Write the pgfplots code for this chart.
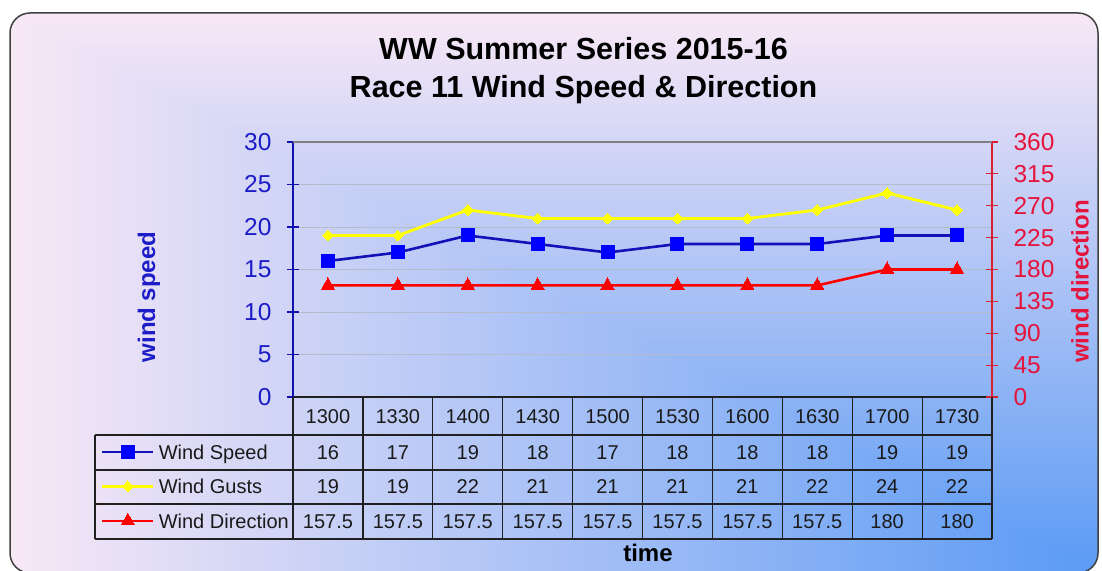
\documentclass[border=0pt]{standalone}
\usepackage{fontspec}
\setmainfont{Liberation Sans}
\usepackage{pgfplots}
\pgfplotsset{compat=1.18}
\usepackage{pgfplotstable}

\definecolor{spdblue}{HTML}{0000FF}
\definecolor{spdline}{HTML}{1212B8}
\definecolor{gustyel}{HTML}{FFFF00}
\definecolor{dirred}{HTML}{FF0000}
\definecolor{lblblue}{HTML}{1C1CC8}
\definecolor{lblred}{HTML}{E4143C}
\definecolor{axblue}{HTML}{1010B0}
\definecolor{axred}{HTML}{D82030}
\definecolor{bgpink}{HTML}{F8E8F6}
\definecolor{bgmid}{HTML}{A6CBF3}
\definecolor{bgblue}{HTML}{5A9AF5}
\definecolor{gridc}{HTML}{B4BCCC}
\definecolor{tblc}{HTML}{202020}
\definecolor{tbltext}{HTML}{1A1A1A}
\definecolor{framec}{HTML}{404040}

\pgfplotstableread{
x speed gusts dir
0 16 19 157.5
1 17 19 157.5
2 19 22 157.5
3 18 21 157.5
4 17 21 157.5
5 18 21 157.5
6 18 21 157.5
7 18 22 157.5
8 19 24 180
9 19 22 180
}\datatable

\begin{document}
\begin{tikzpicture}[x=1pt,y=1pt]
\path[use as bounding box] (0,0) rectangle (1102,570);
% background: gradient from the bottom-right corner
\begin{scope}
\clip[rounded corners=20pt] (10,-3) rectangle (1098,557);
\shade[left color=bgpink, middle color=bgmid, right color=bgblue] (10,-3) rectangle (1098,557);
\shade[top color=bgpink, middle color=bgmid, bottom color=bgblue] (10,557) -- (1098,557) -- (1098,-3) -- cycle;
\end{scope}
\draw[framec, line width=1.5pt, rounded corners=20pt] (10,-3) rectangle (1098,557);

% title
\node[font=\bfseries\fontsize{30.5}{38}\selectfont, align=center, text=black] at (583.5,499) {WW Summer Series 2015-16\\Race 11 Wind Speed \& Direction};

\begin{axis}[
  at={(293pt,173pt)}, anchor=south west, scale only axis,
  width=699pt, height=255pt,
  xmin=-0.5, xmax=9.5, ymin=0, ymax=30,
  axis x line*=bottom, axis y line*=left,
  axis line style={-},
  x axis line style={draw=tblc, line width=1.2pt},
  y axis line style={draw=axblue, line width=1.5pt},
  xtick={0,...,9},
  xticklabels={1300,1330,1400,1430,1500,1530,1600,1630,1700,1730},
  xtick style={draw=none},
  xticklabel style={anchor=center, yshift=-14pt, font=\fontsize{20}{24}\selectfont, text=tbltext},
  ytick={0,5,...,30},
  ytick style={draw=axblue, line width=1.2pt},
  tick align=center, major tick length=12pt,
  yticklabel style={font=\fontsize{24.5}{28}\selectfont, text=lblblue, xshift=-12pt},
  /pgf/number format/assume math mode=true,
  ymajorgrids, grid style={gridc, line width=0.8pt},
  clip=false,
  every node near coord/.append style={anchor=center, font=\fontsize{20}{24}\selectfont, text=tbltext},
  legend image code/.code={\draw[mark repeat=2, mark phase=2, #1] plot coordinates {(0pt,2pt) (25.5pt,2pt) (51pt,2pt)};},
  legend style={at={(-0.2747,-0.1875)}, anchor=north west, draw=none, fill=none,
    inner sep=0pt, outer sep=0pt, row sep=15.75pt,
    font=\fontsize{20}{24}\selectfont,
    nodes={inner sep=0pt, text height=14.5pt, text depth=4pt, text=tbltext},
    /tikz/every odd column/.append style={column sep=4pt}},
  legend cell align=left,
]
\addplot[color=spdline, line width=2.6pt, mark=square*, mark size=6.5pt,
  mark options={fill=spdblue, draw=spdblue, line width=0pt}] table[x=x, y=speed] {\datatable};
\addlegendentry{Wind Speed}
\addplot[color=gustyel, line width=2.8pt, mark=diamond*, mark size=5.4pt,
  mark options={fill=gustyel, draw=gustyel, line width=0pt, xscale=1.3}] table[x=x, y=gusts] {\datatable};
\addlegendentry{Wind Gusts}
\addlegendimage{color=dirred, line width=2.6pt, mark=triangle*, mark size=7.6pt,
  mark options={fill=dirred, draw=dirred, line width=0pt}}
\addlegendentry{Wind Direction}
% data table values
\addplot[forget plot, draw=none, mark=none, nodes near coords, point meta=explicit]
  table[x=x, y expr=-6.53, meta=speed] {\datatable};
\addplot[forget plot, draw=none, mark=none, nodes near coords, point meta=explicit]
  table[x=x, y expr=-10.59, meta=gusts] {\datatable};
\addplot[forget plot, draw=none, mark=none, nodes near coords, point meta=explicit]
  table[x=x, y expr=-14.65, meta=dir] {\datatable};
\end{axis}

\begin{axis}[
  at={(293pt,173pt)}, anchor=south west, scale only axis,
  width=699pt, height=255pt,
  xmin=-0.5, xmax=9.5, ymin=0, ymax=360,
  axis x line=none, axis y line*=right,
  axis line style={-},
  y axis line style={draw=axred, line width=1.5pt},
  ytick={0,45,...,360},
  ytick style={draw=axred, line width=1.2pt},
  tick align=center, major tick length=12pt,
  yticklabel style={font=\fontsize{24.5}{28}\selectfont, text=lblred, xshift=12pt},
  /pgf/number format/assume math mode=true,
  clip=false,
]
\addplot[color=dirred, line width=2.6pt, mark=triangle*, mark size=7.6pt,
  mark options={fill=dirred, draw=dirred, line width=0pt}] table[x=x, y=dir] {\datatable};
\end{axis}

% plot area top border
\draw[gray, line width=1.5pt] (293,428) -- (992,428);
% data table grid
\begin{scope}[tblc, line width=1.2pt]
\draw (95,135) -- (992,135);
\draw (95,100) -- (992,100);
\draw (95,66) -- (992,66);
\draw (95,31) -- (992,31);
\draw (95,135) -- (95,31);
\foreach \i in {0,...,10} {\draw (293+69.9*\i,173) -- (293+69.9*\i,31);}
\end{scope}

% axis labels
\node[font=\bfseries\fontsize{24}{28}\selectfont, text=lblblue, rotate=90] at (149,273) {wind speed};
\node[font=\bfseries\fontsize{24}{28}\selectfont, text=lblred, rotate=90] at (1080,288.5) {wind direction};
\node[font=\bfseries\fontsize{24}{28}\selectfont, text=black] at (648,17) {time};
\end{tikzpicture}
\end{document}
